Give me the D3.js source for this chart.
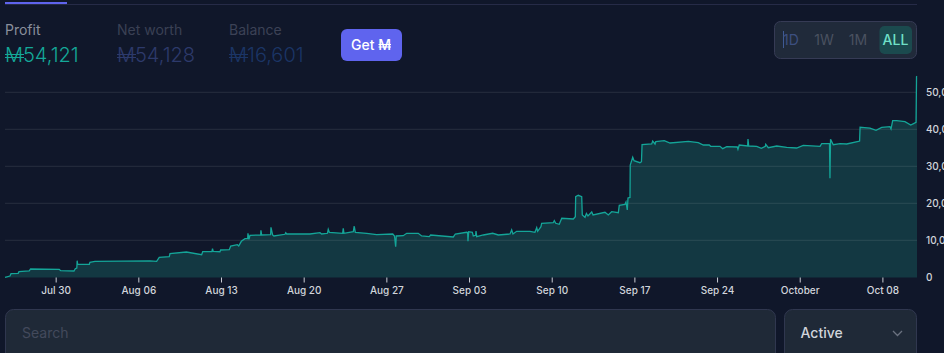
<!DOCTYPE html>
<html>
<head>
<meta charset="utf-8">
<script src="https://cdn.jsdelivr.net/npm/d3@7"></script>
<style>
  html, body { margin: 0; padding: 0; background: #10172a; overflow: hidden; }
  svg { display: block; font-family: Inter, "Noto Sans", sans-serif; }
</style>
</head>
<body>
<script>
// days counted from Jul 30
const dayOffset = [
  -4.29, -3.87, -3.78, -3.17, -3.11, -2.24, -2.12, 0.30, 0.42, 1.55, 1.66, 1.79, 1.82, 1.86, 2.85, 2.90, 3.33, 7.98,
  8.55, 8.77, 9.62, 9.68, 11.07, 12.36, 12.45, 13.23, 13.28, 13.34, 13.91, 13.97, 14.70, 14.82, 15.38, 15.50, 15.72,
  16.03, 16.26, 16.28, 16.37, 16.45, 17.36, 17.38, 17.44, 18.20, 18.23, 18.37, 18.48, 19.42, 19.48, 19.56, 21.53,
  22.38, 22.52, 23.01, 23.08, 23.17, 24.30, 24.35, 24.41, 25.20, 25.28, 25.37, 26.33, 27.18, 28.54, 28.69, 28.79,
  28.84, 29.43, 29.72, 30.70, 30.99, 31.63, 31.75, 33.67, 33.84, 34.80, 34.88, 34.91, 34.97, 35.28, 35.36, 35.56,
  35.59, 35.65, 36.21, 37.00, 37.48, 38.47, 38.61, 38.72, 39.03, 40.16, 40.58, 40.73, 40.81, 41.09, 41.15, 42.13,
  42.22, 42.34, 42.64, 42.85, 43.83, 44.00, 44.03, 44.25, 44.54, 44.59, 44.82, 44.94, 45.07, 45.39, 45.50, 46.51,
  46.79, 47.08, 47.64, 47.72, 48.20, 48.29, 48.40, 48.46, 48.63, 48.65, 48.86, 48.97, 49.47, 49.60, 49.65, 50.47,
  50.55, 50.75, 50.81, 51.53, 52.02, 53.57, 54.41, 54.84, 55.34, 55.46, 56.25, 56.48, 56.82, 57.71, 57.77, 57.88,
  58.59, 58.62, 58.68, 59.36, 59.75, 60.09, 60.12, 60.34, 61.05, 61.90, 62.74, 63.30, 64.72, 64.86, 65.52, 65.56,
  65.61, 65.84, 66.42, 66.98, 67.97, 68.07, 68.11, 68.95, 69.46, 69.94, 70.64, 70.73, 70.87, 71.21, 71.91, 72.40,
  72.85, 72.89, 72.93
];
const profit = [
  50, 400, 1030, 1140, 1570, 1760, 2300, 2220, 1840, 1760, 2380, 2570, 4540, 3570, 3570, 4110, 4380, 4510,
  4380, 5460, 5620, 6430, 6890, 6160, 6970, 6970, 7780, 7030, 6970, 7430, 7510, 8510, 8860, 8510, 9780,
  10490, 10490, 11950, 10320, 11410, 11490, 12760, 11490, 11570, 13570, 11490, 11220, 11680, 12110, 11760, 11760,
  12110, 11760, 11950, 13030, 12220, 11950, 13300, 11950, 12380, 13920, 12220, 11950, 11570, 11760, 11220, 8320,
  11220, 11300, 11950, 11950, 11220, 11030, 11490, 10950, 11760, 12220, 12160, 9780, 12380, 12220, 11220, 11410,
  12570, 11030, 11490, 11950, 11490, 11760, 12840, 11760, 12490, 12490, 12220, 13460, 12490, 13730, 14650, 14810,
  15350, 14650, 14380, 16000, 15810, 16430, 21840, 22220, 21840, 16890, 16270, 17300, 16620, 17700, 16890, 17620,
  16890, 17780, 17510, 19510, 19780, 20400, 18240, 21490, 21620, 30410, 32490, 31570, 31030, 31300, 35890, 36080,
  36890, 36080, 36700, 36970, 36350, 36810, 36430, 35810, 35810, 35460, 35460, 34810, 35350, 35270, 34650, 35810,
  35540, 37430, 35540, 35460, 34920, 35460, 36000, 35080, 35540, 35190, 35000, 35730, 35460, 36160, 36160, 26810,
  37350, 35890, 36160, 36080, 36810, 36890, 40590, 40400, 39780, 40590, 40760, 40130, 42380, 42380, 42110, 41220,
  41950, 54270, 54380
];
const yTickValues = [0, 10000, 20000, 30000, 40000, 50000];

const statLabels = ["Profit", "Net worth", "Balance"];
const statValues = ["M54,121", "M54,128", "M16,601"];
const rangeLabels = ["1D", "1W", "1M", "ALL"];

const width = 944;
const height = 353;
const plotLeft = 5;
const plotRight = 917;
const plotBottom = 277.5;

const jul30 = new Date(2023, 6, 30).getTime();
const toDate = (d) => new Date(jul30 + d * 864e5);
const dates = dayOffset.map(toDate);

const svg = d3
  .select("body")
  .append("svg")
  .attr("width", width)
  .attr("height", height);

// two bars across the M of the token symbol
function symbolBars(x1, x2, yTop, gap, color) {
  [yTop, yTop + gap].forEach((yy) => {
    svg.append("line").attr("x1", x1).attr("x2", x2).attr("y1", yy).attr("y2", yy)
      .attr("stroke", color).attr("stroke-width", 1);
  });
}

// tab line on top
svg.append("line").attr("x1", 5).attr("x2", 917).attr("y1", 4.5).attr("y2", 4.5).attr("stroke", "#262b47");
svg.append("rect").attr("x", 5).attr("y", 2).attr("width", 62).attr("height", 2).attr("fill", "#5f64ee");

// stats
const statX = [5, 117, 229];
const statLabelColor = ["#8a8f9c", "#3a4054", "#3c4256"];
const statValueColor = ["#14a898", "#2d3a6b", "#1b3566"];

statLabels.forEach((label, i) => {
  svg.append("text").attr("x", statX[i]).attr("y", 35).attr("font-size", 14).attr("fill", statLabelColor[i]).text(label);
  svg.append("text").attr("x", statX[i]).attr("y", 62).attr("font-size", 20).attr("font-weight", 300)
    .attr("fill", statValueColor[i]).text(statValues[i]);
  symbolBars(statX[i], statX[i] + 19, 54.5, 3, statValueColor[i]);
});

// get button
svg.append("rect").attr("x", 341).attr("y", 29).attr("width", 61).attr("height", 32).attr("rx", 6).attr("fill", "#5f64ee");
svg.append("text").attr("x", 351).attr("y", 49.5).attr("font-size", 14)
  .attr("font-weight", 500).attr("fill", "#fff").text("Get M");
symbolBars(378.5, 391, 44.5, 2.5, "#fff");

// range selector
svg.append("rect").attr("x", 774.5).attr("y", 21.5).attr("width", 142).attr("height", 37).attr("rx", 6)
  .attr("fill", "#202a3a").attr("stroke", "#363b55");
svg.append("rect").attr("x", 879.5).attr("y", 26).attr("width", 32.5).attr("height", 28).attr("rx", 5).attr("fill", "#1b4a4e");
svg.append("line").attr("x1", 783.5).attr("x2", 783.5).attr("y1", 31).attr("y2", 48).attr("stroke", "#3f5a94");

const rangeX = [791, 824, 858, 895.5];
const rangeColor = ["#3d4f80", "#4a5160", "#4a5160", "#70e0c8"];
rangeLabels.forEach((label, i) => {
  svg.append("text").attr("x", rangeX[i]).attr("y", 44.5).attr("text-anchor", "middle").attr("font-size", 14)
    .attr("font-weight", i === 3 ? 500 : 400).attr("fill", rangeColor[i]).text(label);
});

// scales
const x = d3.scaleTime().domain([toDate(-4.29), toDate(72.93)]).range([plotLeft, plotRight]);
const y = d3.scaleLinear().domain([0, 50000]).range([plotBottom, 92.5]);

// area and line
const area = d3.area().x((d, i) => x(dates[i])).y0(plotBottom).y1((d) => y(d));
const line = d3.line().x((d, i) => x(dates[i])).y((d) => y(d));

svg.append("path").datum(profit).attr("d", area).attr("fill", "#133842");

// gridlines
svg.append("g")
  .selectAll("line")
  .data(yTickValues.slice(1))
  .enter()
  .append("line")
  .attr("x1", plotLeft)
  .attr("x2", plotRight)
  .attr("y1", (d) => y(d) - 0.2)
  .attr("y2", (d) => y(d) - 0.2)
  .attr("stroke", "#fff")
  .attr("stroke-opacity", 0.1);

svg.append("path").datum(profit).attr("d", line).attr("fill", "none").attr("stroke", "#14a598").attr("stroke-width", 1.3);

// axes
const xAxis = svg.append("g")
  .attr("transform", `translate(0,${plotBottom})`)
  .call(d3.axisBottom(x).ticks(d3.timeWeek.every(1)).tickSize(5).tickPadding(4));
xAxis.select(".domain").remove();
xAxis.selectAll("line").attr("stroke", "#c9ccd3");
xAxis.selectAll("text").attr("fill", "#d1d5db").attr("font-size", 10).attr("font-weight", 500).attr("font-family", "Inter");

const yAxis = svg.append("g")
  .attr("transform", `translate(${plotRight},0)`)
  .call(d3.axisRight(y).tickValues(yTickValues).tickFormat(d3.format(",")).tickSize(0).tickPadding(9));
yAxis.select(".domain").remove();
yAxis.selectAll("text").attr("fill", "#d1d5db").attr("font-size", 10).attr("font-weight", 500).attr("font-family", "Inter");

// search and filter boxes under the chart
svg.append("rect").attr("x", 5.5).attr("y", 309.5).attr("width", 770).attr("height", 70).attr("rx", 8)
  .attr("fill", "#1f2937").attr("stroke", "#30374f");
svg.append("text").attr("x", 22).attr("y", 338).attr("font-size", 14).attr("fill", "#434a5c").text("Search");

svg.append("rect").attr("x", 784.5).attr("y", 309.5).attr("width", 132).attr("height", 70).attr("rx", 8)
  .attr("fill", "#1f2937").attr("stroke", "#30374f");
svg.append("text").attr("x", 800.5).attr("y", 338).attr("font-size", 14).attr("font-weight", 500).attr("fill", "#d1d5db").text("Active");
svg.append("path").attr("d", "M893 331l4.5 4.5l4.5-4.5").attr("fill", "none").attr("stroke", "#6b7280").attr("stroke-width", 1.3);
</script>
</body>
</html>
